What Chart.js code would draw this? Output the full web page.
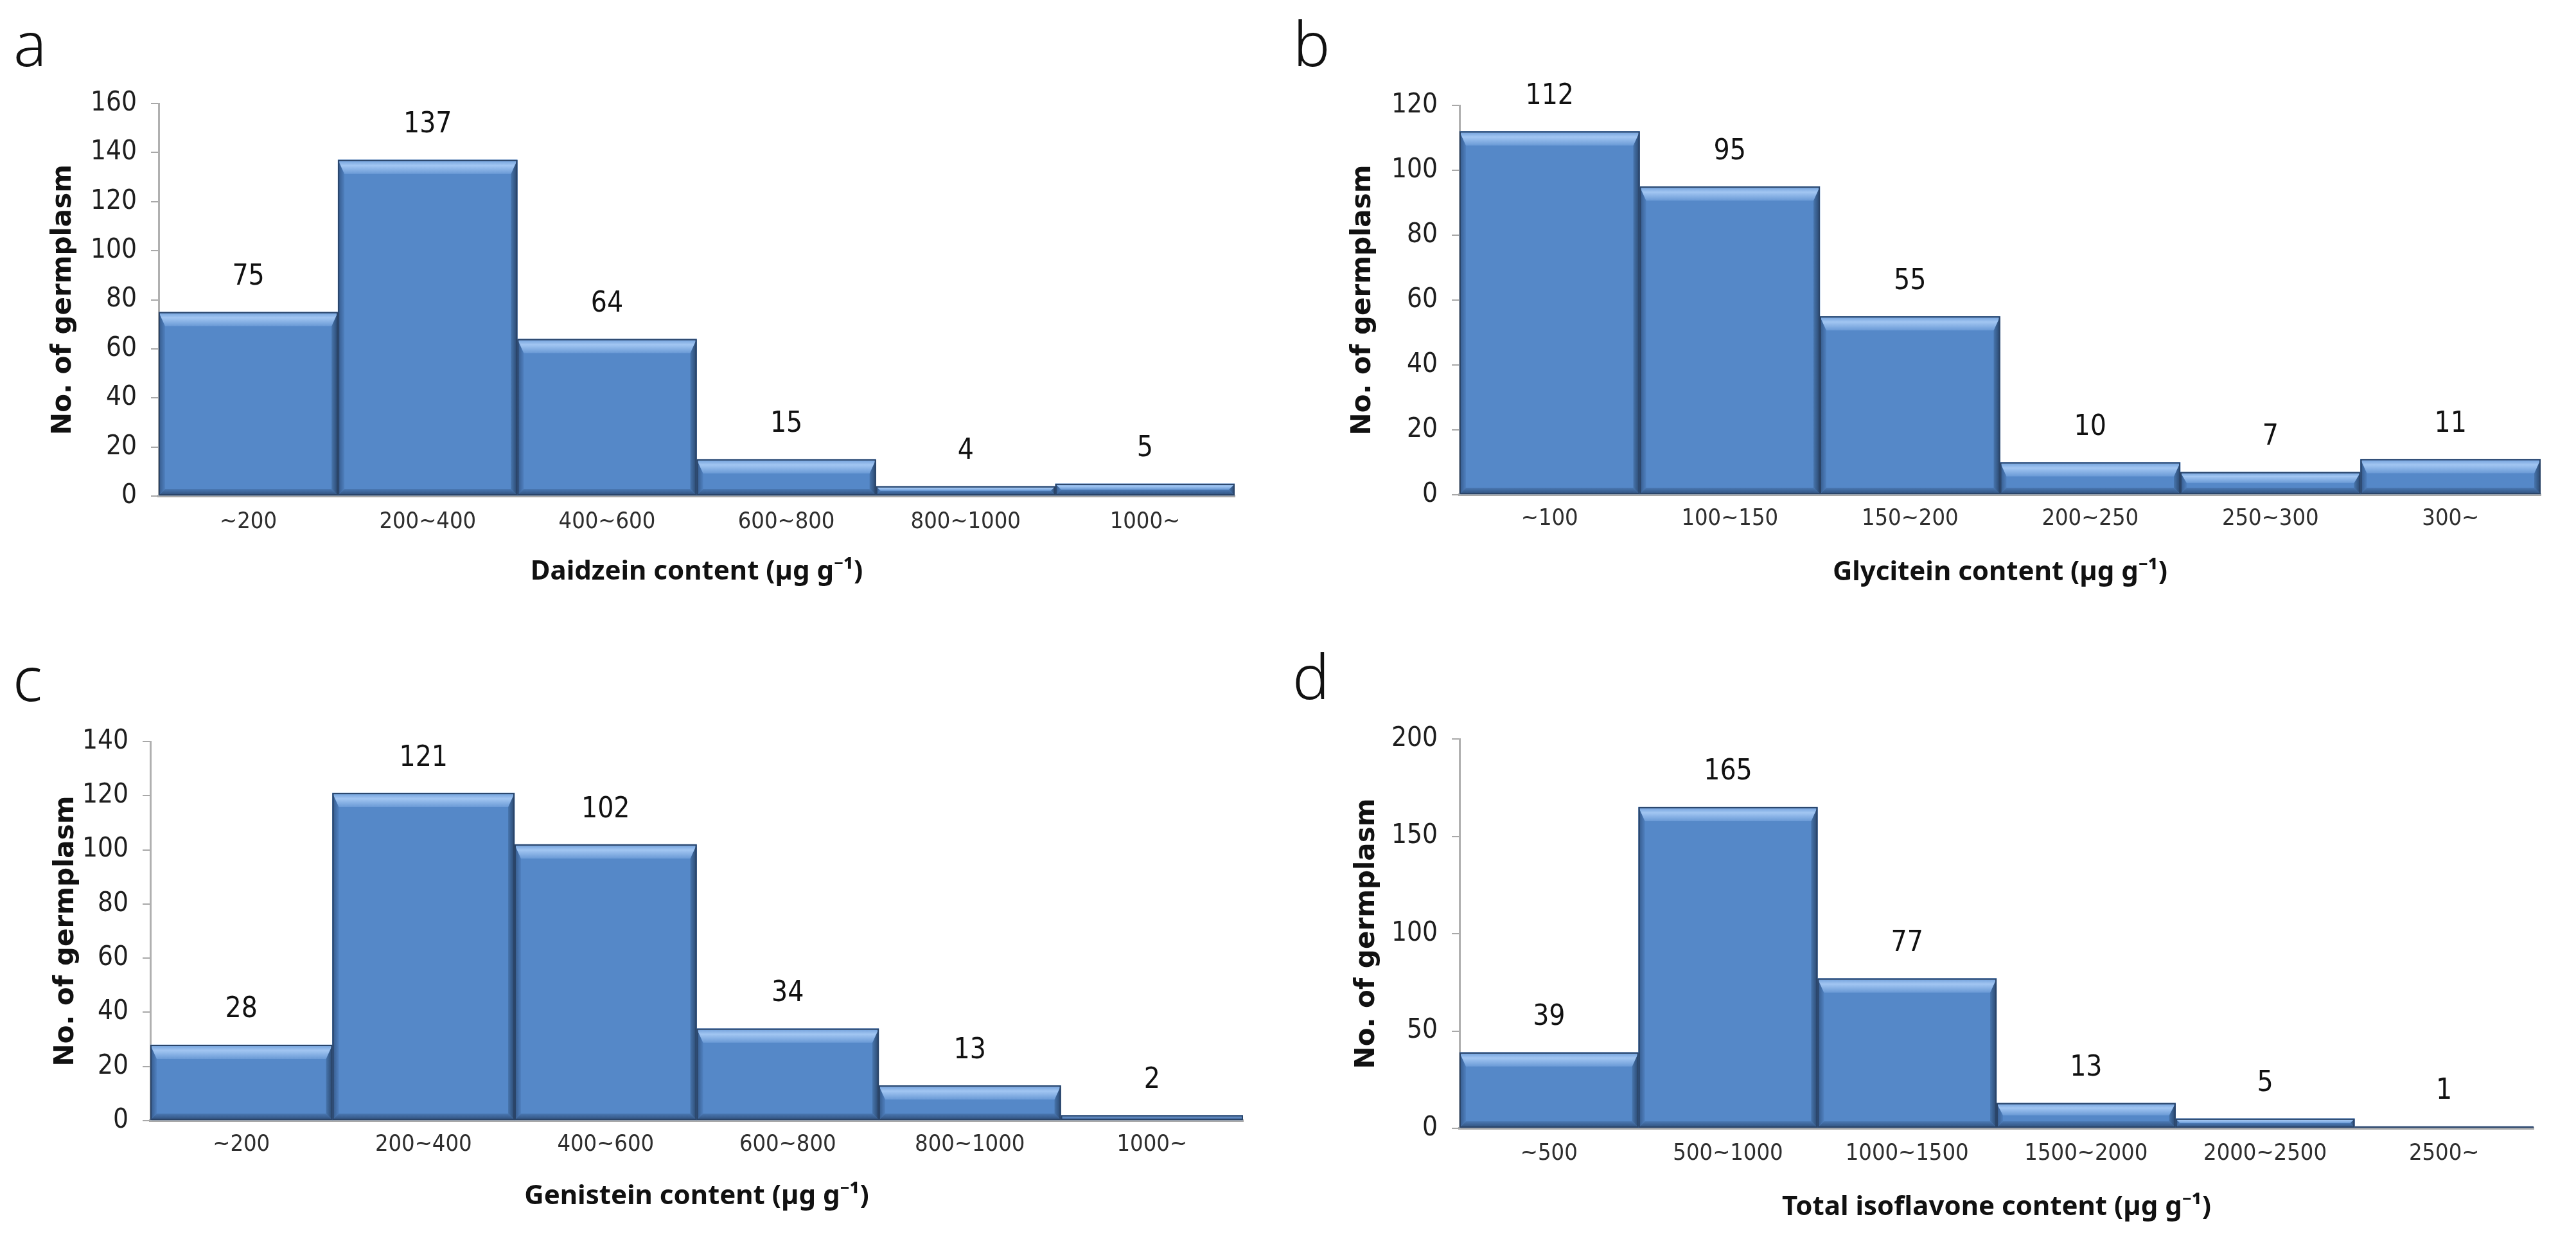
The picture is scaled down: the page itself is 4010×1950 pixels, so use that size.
<!DOCTYPE html>
<html>
<head>
<meta charset="utf-8">
<script src="https://cdn.jsdelivr.net/npm/chart.js@4.4.1/dist/chart.umd.min.js"></script>
<style>
html,body{margin:0;padding:0;background:#fff;}
#wrap{position:relative;width:4010px;height:1950px;overflow:hidden;background:#fff;}
canvas{position:absolute;}
.lab{position:absolute;font-family:'Noto Sans','Open Sans',sans-serif;font-weight:300;font-size:96px;line-height:1;color:#111;}
</style>
</head>
<body>
<div id="wrap">
  <div class="lab" style="left:21px;top:18px;">a</div>
  <div class="lab" style="left:2013px;top:18px;">b</div>
  <div class="lab" style="left:20px;top:1006px;">c</div>
  <div class="lab" style="left:2012px;top:1003px;">d</div>
  <canvas id="ca" width="2005" height="975" style="left:0px;top:0px;width:2005px;height:975px;"></canvas>
  <canvas id="cb" width="2005" height="975" style="left:2005px;top:0px;width:2005px;height:975px;"></canvas>
  <canvas id="cc" width="2005" height="975" style="left:0px;top:975px;width:2005px;height:975px;"></canvas>
  <canvas id="cd" width="2005" height="975" style="left:2005px;top:975px;width:2005px;height:975px;"></canvas>
</div>
<script>
// ---------------- data ----------------
const daidzeinBins   = ['~200', '200~400', '400~600', '600~800', '800~1000', '1000~'];
const daidzeinCounts = [75, 137, 64, 15, 4, 5];
const daidzeinYTicks = [0, 20, 40, 60, 80, 100, 120, 140, 160];

const glyciteinBins   = ['~100', '100~150', '150~200', '200~250', '250~300', '300~'];
const glyciteinCounts = [112, 95, 55, 10, 7, 11];
const glyciteinYTicks = [0, 20, 40, 60, 80, 100, 120];

const genisteinBins   = ['~200', '200~400', '400~600', '600~800', '800~1000', '1000~'];
const genisteinCounts = [28, 121, 102, 34, 13, 2];
const genisteinYTicks = [0, 20, 40, 60, 80, 100, 120, 140];

const totalBins   = ['~500', '500~1000', '1000~1500', '1500~2000', '2000~2500', '2500~'];
const totalCounts = [39, 165, 77, 13, 5, 1];
const totalYTicks = [0, 50, 100, 150, 200];

const yAxisTitle = 'No. of germplasm';
const xTitles = {
  a: 'Daidzein content (\u00B5g g\u207B\u00B9)',
  b: 'Glycitein content (\u00B5g g\u207B\u00B9)',
  c: 'Genistein content (\u00B5g g\u207B\u00B9)',
  d: 'Total isoflavone content (\u00B5g g\u207B\u00B9)'
};

// ---------------- styling / layout ----------------
function pickFont(cands, fallback) {
  const c = document.createElement('canvas').getContext('2d');
  const probe = '0123456789~abcdefghij';
  c.font = '40px monospace';
  const base = c.measureText(probe).width;
  for (const f of cands) {
    c.font = "40px '" + f + "', monospace";
    if (Math.abs(c.measureText(probe).width - base) > 0.5) return "'" + f + "'";
  }
  return fallback;
}
const NARROW = pickFont(['Liberation Sans Narrow', 'DejaVu Sans Condensed', 'Roboto Condensed', 'Open Sans Condensed'], "'Liberation Sans'") + ', sans-serif';
const W = 2005, H = 975;
const X_TICK_SIZE = 36, X_TITLE_SIZE = 42, Y_TITLE_SIZE = 42, Y_TICK_SIZE = 42, VAL_SIZE = 44;

function poly(ctx, pts, fill) {
  ctx.beginPath();
  ctx.moveTo(pts[0][0], pts[0][1]);
  for (let k = 1; k < pts.length; k++) ctx.lineTo(pts[k][0], pts[k][1]);
  ctx.closePath();
  ctx.fillStyle = fill;
  ctx.fill();
}

const bevelPlugin = {
  id: 'bevel',
  afterDatasetsDraw(chart) {
    const ctx = chart.ctx;
    const meta = chart.getDatasetMeta(0);
    const vals = chart.data.datasets[0].data;
    meta.data.forEach((bar, i) => {
      const p = bar.getProps(['x', 'y', 'base', 'width'], true);
      const l = p.x - p.width / 2, r = p.x + p.width / 2;
      const t = Math.min(p.y, p.base), b = Math.max(p.y, p.base);
      const h = b - t;
      ctx.save();
      if (h > 10) {
        const th = Math.min(22, h / 2);
        const sw = Math.min(10, h / 2);
        let g = ctx.createLinearGradient(l, 0, l + sw, 0);
        g.addColorStop(0, '#34598a'); g.addColorStop(1, '#4f80bf');
        poly(ctx, [[l, t], [l + sw, t + th], [l + sw, b - sw], [l, b]], g);
        g = ctx.createLinearGradient(r - sw, 0, r, 0);
        g.addColorStop(0, '#4775ad'); g.addColorStop(1, '#2a476e');
        poly(ctx, [[r, t], [r, b], [r - sw, b - sw], [r - sw, t + th]], g);
        g = ctx.createLinearGradient(0, b - sw, 0, b);
        g.addColorStop(0, '#4a78b3'); g.addColorStop(1, '#2f4f7a');
        poly(ctx, [[l, b], [r, b], [r - sw, b - sw], [l + sw, b - sw]], g);
        g = ctx.createLinearGradient(0, t, 0, t + th);
        g.addColorStop(0, '#6c9cd8'); g.addColorStop(0.4, '#a2c6f2'); g.addColorStop(1, '#6a9ad6');
        poly(ctx, [[l, t], [r, t], [r - sw, t + th], [l + sw, t + th]], g);
      } else if (h > 0.5) {
        const g = ctx.createLinearGradient(0, t, 0, b);
        g.addColorStop(0, '#7eaae2'); g.addColorStop(1, '#3a6298');
        poly(ctx, [[l, t], [r, t], [r, b], [l, b]], g);
      }
      if (h > 0.5) {
        ctx.strokeStyle = '#2a4468';
        ctx.lineWidth = 2;
        ctx.strokeRect(l + 1, t + 1, Math.max(0, r - l - 2), Math.max(0, h - 2));
      }
      ctx.fillStyle = '#111111';
      ctx.font = VAL_SIZE + 'px ' + NARROW;
      ctx.textAlign = 'center';
      ctx.textBaseline = 'middle';
      ctx.fillText(String(vals[i]), p.x, t - 54);
      ctx.restore();
    });
  }
};

function makeChart(id, bins, counts, yTicks, xTitle, g) {
  const yStep = yTicks[1] - yTicks[0];
  return new Chart(document.getElementById(id), {
    type: 'bar',
    data: {
      labels: bins,
      datasets: [{
        data: counts,
        backgroundColor: '#5588c8',
        borderWidth: 0,
        barPercentage: 1.0,
        categoryPercentage: 1.0
      }]
    },
    options: {
      responsive: false,
      animation: false,
      devicePixelRatio: 1,
      layout: { padding: { left: 0, top: g.top, right: W - g.right, bottom: 0 } },
      plugins: { legend: { display: false }, tooltip: { enabled: false }, title: { display: false } },
      scales: {
        x: {
          type: 'category',
          offset: true,
          grid: { display: false, drawTicks: false },
          border: { display: true, color: '#a8a8a8', width: 4 },
          ticks: {
            font: { family: NARROW, size: X_TICK_SIZE },
            color: '#2e2e2e',
            padding: g.xLabelGap - X_TICK_SIZE * 1.2 / 2,
            maxRotation: 0, autoSkip: false
          },
          title: {
            display: true,
            text: xTitle,
            color: '#111111',
            font: { family: "'Noto Sans','Liberation Sans',sans-serif", weight: 'bold', size: X_TITLE_SIZE },
            padding: { top: 0, bottom: H - g.bottom - g.xTitleGap - X_TITLE_SIZE * 1.2 / 2 }
          },
          afterFit(s) { s.height = H - g.bottom; }
        },
        y: {
          min: yTicks[0],
          max: yTicks[yTicks.length - 1],
          ticks: {
            stepSize: yStep,
            font: { family: NARROW, size: Y_TICK_SIZE },
            color: '#1e1e1e',
            padding: 22
          },
          grid: { display: true, drawOnChartArea: false, drawTicks: true, tickLength: 12, color: '#a8a8a8', lineWidth: 2 },
          border: { display: true, color: '#b0b0b0', width: 3 },
          title: {
            display: true,
            text: yAxisTitle,
            color: '#111111',
            font: { family: "'DejaVu Sans',Verdana,sans-serif", weight: 'bold', size: Y_TITLE_SIZE },
            padding: { top: g.yTitleX - Y_TITLE_SIZE * 1.2 / 2, bottom: 0 }
          },
          afterFit(s) { s.width = g.left; }
        }
      }
    },
    plugins: [bevelPlugin]
  });
}

makeChart('ca', daidzeinBins, daidzeinCounts, daidzeinYTicks, xTitles.a,
  { left: 247, top: 161, right: 1922, bottom: 772, yTitleX: 99, xLabelGap: 41, xTitleGap: 118 });
makeChart('cb', glyciteinBins, glyciteinCounts, glyciteinYTicks, xTitles.b,
  { left: 267, top: 164, right: 1950, bottom: 770, yTitleX: 117, xLabelGap: 38, xTitleGap: 121 });
makeChart('cc', genisteinBins, genisteinCounts, genisteinYTicks, xTitles.c,
  { left: 234, top: 179, right: 1935, bottom: 769, yTitleX: 103, xLabelGap: 38, xTitleGap: 118 });
makeChart('cd', totalBins, totalCounts, totalYTicks, xTitles.d,
  { left: 267, top: 175, right: 1939, bottom: 781, yTitleX: 123, xLabelGap: 40, xTitleGap: 123 });
</script>
</body>
</html>
